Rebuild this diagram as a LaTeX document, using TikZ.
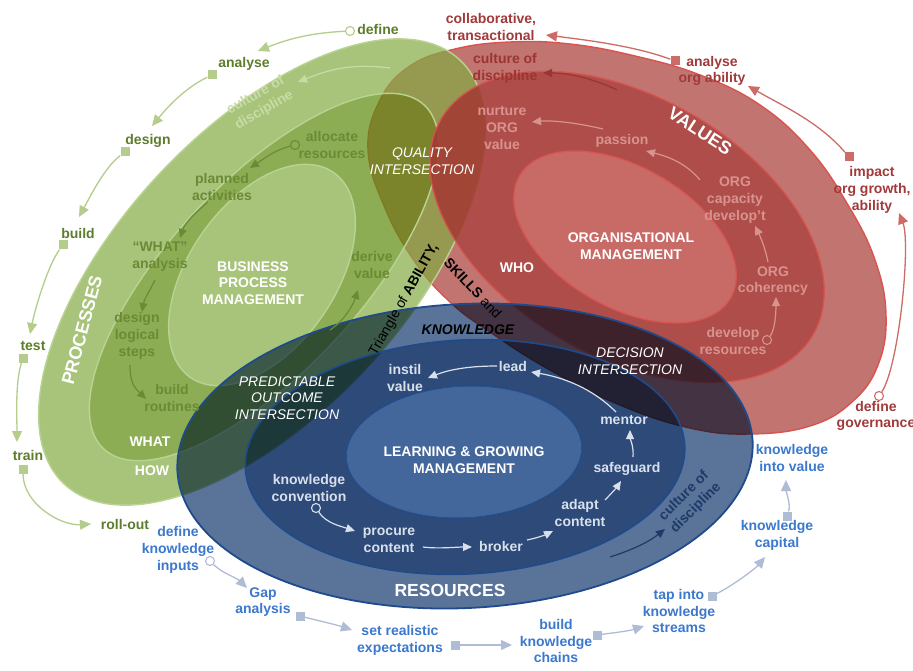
\documentclass[tikz,border=0pt]{standalone}
\usepackage{fontspec}
\setmainfont{Liberation Sans}
\usetikzlibrary{arrows.meta}

% ring palettes (green fills are laid down at 70% opacity)
\definecolor{gOut}{HTML}{84AB44}
\definecolor{gMid}{HTML}{5E8B0E}
\definecolor{gIn}{HTML}{84AC42}
\definecolor{gEdge}{HTML}{BAD393}
\definecolor{gText}{HTML}{5E7D2C}
\definecolor{gInText}{HTML}{6A8A36}
\definecolor{gLine}{HTML}{B5CD8C}
\definecolor{gPale}{HTML}{C9DBA6}

\definecolor{rOut}{HTML}{C27470}
\definecolor{rMid}{HTML}{A02F2A}
\definecolor{rIn}{HTML}{C6635E}
\definecolor{rEdge}{HTML}{D9534F}
\definecolor{rText}{HTML}{A23A3A}
\definecolor{rInText}{HTML}{D9938E}
\definecolor{rLine}{HTML}{CF6B66}
\definecolor{rDark}{HTML}{9C3532}

\definecolor{bOut}{HTML}{5A7399}
\definecolor{bMid}{HTML}{2D4A78}
\definecolor{bIn}{HTML}{44679B}
\definecolor{bEdge}{HTML}{1F4B8C}
\definecolor{bText}{HTML}{3B78CE}
\definecolor{bInText}{HTML}{D8E0EC}
\definecolor{bLine}{HTML}{AFBCD6}
\definecolor{bNavy}{HTML}{1D3A68}

% closed tilted ellipse: centre x, centre y, half-axis a, half-axis b, tilt (deg, counter-clockwise)
\newcommand\ellpath[5]{plot[domain=0:360,samples=181,variable=\t]
  ({#1+#3*cos(\t)*cos(#5)+#4*sin(\t)*sin(#5)},{#2-#3*cos(\t)*sin(#5)+#4*sin(\t)*cos(#5)}) -- cycle}
% the three ellipses of each ring set
\newcommand\gOutE{\ellpath{262}{272}{290}{142}{47}}
\newcommand\gMidE{\ellpath{264}{277}{235}{95}{47}}
\newcommand\gInE{\ellpath{262}{275}{125}{73}{55}}
\newcommand\rMidE{\ellpath{627}{227}{215}{130}{-30}}
\newcommand\rInE{\ellpath{625}{237}{122}{70}{-30}}
\newcommand\bOutE{\ellpath{465}{456}{288}{152}{3}}
\newcommand\bMidE{\ellpath{465}{457}{220}{117}{3}}
\newcommand\bInE{\ellpath{464}{452}{118}{66}{3}}
% outline of the VALUES ring
\newcommand\rOutE{plot[smooth cycle, tension=0.7] coordinates {
  (368,150) (380,100) (410,66) (455,49) (510,42) (570,44) (635,56) (700,75)
  (760,105) (810,150) (848,205) (875,260) (886,315) (878,365) (852,402)
  (810,426) (750,434) (690,428) (620,405) (550,370) (490,332) (450,302)
  (415,262) (385,208)}}

\tikzset{
  every node/.style={inner sep=0pt, align=center},
  lb/.style={font=\fontsize{14}{16.8}\selectfont\bfseries},
  big/.style={font=\fontsize{18}{20}\selectfont\bfseries, text=white},
  itl/.style={font=\fontsize{14}{16.8}\selectfont\itshape, text=white},
  glab/.style={lb, text=gText},
  gin/.style={lb, text=gInText},
  rlab/.style={lb, text=rText},
  rin/.style={lb, text=rInText},
  blab/.style={lb, text=bText},
  bin/.style={lb, text=bInText},
  wlab/.style={lb, text=white},
  sq/.style={rectangle, fill=#1, minimum size=9pt},
  ring/.style={circle, draw=#1, fill=white, line width=1.1pt, minimum size=9pt},
  tipbig/.style={-{Triangle[length=11pt,width=10pt]}},
  tipsmall/.style={-{Triangle[length=9pt,width=8pt]}},
  gcon/.style={draw=gLine, line width=1.3pt, tipbig},
  rcon/.style={draw=rLine, line width=1.3pt, tipbig},
  bcon/.style={draw=bLine, line width=1.3pt, tipbig},
  icon/.style={draw=#1, line width=1.2pt, tipsmall},
  gfill/.style={fill=#1, fill opacity=0.7, even odd rule},
}

\begin{document}
\begin{tikzpicture}[x=1pt,y=-1pt]
\useasboundingbox (0,0) rectangle (913,671);
\fill[white] (0,0) rectangle (913,671);

% ---------- VALUES outer ring (lies under the green set) ----------
\fill[rOut, even odd rule] \rOutE \rMidE;
\draw[rEdge, line width=1.4pt] \rOutE;

% ---------- PROCESSES (green) ----------
\fill[gfill=gOut] \gOutE \gMidE;
\fill[gfill=gMid] \gMidE \gInE;
\fill[gfill=gIn]  \gInE;
\draw[gEdge, line width=1.4pt] \gOutE;
\draw[gEdge, line width=1.4pt] \gMidE;
\draw[gEdge, line width=1.4pt] \gInE;

% ---------- VALUES inner rings ----------
\fill[rMid, fill opacity=0.85, even odd rule] \rMidE \rInE;
\fill[rIn, fill opacity=0.95] \rInE;
\draw[rEdge, line width=1.4pt, draw opacity=0.9] \rMidE;
\draw[rEdge, line width=1.4pt, draw opacity=0.9] \rInE;

% ---------- RESOURCES (blue) ----------
\fill[bOut, blend mode=multiply, even odd rule] \bOutE \bMidE;
\fill[bMid, blend mode=multiply, even odd rule] \bMidE \bInE;
\fill[bIn, blend mode=multiply] \bInE;
\draw[bEdge, line width=1.8pt] \bOutE;
\draw[bEdge, line width=1.6pt] \bMidE;
\draw[bEdge, line width=1.4pt, draw opacity=0.8] \bInE;

% ---------- green outer cycle ----------
\node[ring=gLine] (mDefine)  at (350,31) {};
\node[sq=gLine]   (mAnalyse) at (212,75) {};
\node[sq=gLine]   (mDesign)  at (125,152) {};
\node[sq=gLine]   (mBuild)   at (63,245) {};
\node[sq=gLine]   (mTest)    at (23,358) {};
\node[sq=gLine]   (mTrain)   at (23,469) {};
\coordinate (tAnalyse) at (258,51);
\coordinate (tDesign)  at (152,126);
\coordinate (tBuild)   at (79,217);
\coordinate (tTest)    at (30,334);
\coordinate (tTrain)   at (17,442);
\coordinate (tRoll)    at (91,524);
\draw[gcon] (mDefine)  .. controls +(-40,2) and +(30,-12) .. (tAnalyse);
\draw[gcon] (mAnalyse) .. controls +(-25,12) and +(18,-22) .. (tDesign);
\draw[gcon] (mDesign)  .. controls +(-20,15) and +(12,-22) .. (tBuild);
\draw[gcon] (mBuild)   .. controls +(-15,20) and +(5,-25) .. (tTest);
\draw[gcon] (mTest)    .. controls +(-8,25) and +(0,-25) .. (tTrain);
\draw[gcon] (mTrain)   .. controls +(0,35) and +(-30,2) .. (tRoll);
\node[glab] (lDefine)  at (378,29)  {define};
\node[glab] (lAnalyse) at (244,64)  {analyse};
\node[glab] (lDesign)  at (148,141) {design};
\node[glab] (lBuild)   at (78,233)  {build};
\node[glab] (lTest)    at (33,346)  {test};
\node[glab] (lTrain)   at (28,455)  {train};
\node[glab] (lRoll)    at (125,524) {roll-out};

% ---------- green inner cycle ----------
\node[ring=gInText, fill=none] (mAlloc) at (295,145) {};
\coordinate (tPlanned) at (250,168);
\coordinate (sPlanned) at (208,202);
\coordinate (tWhatA)   at (180,238);
\coordinate (sWhatA)   at (155,280);
\coordinate (tLogic)   at (142,312);
\coordinate (sLogic)   at (130,365);
\coordinate (tRout)    at (146,399);
\coordinate (sDerive)  at (330,330);
\coordinate (tDerive)  at (358,290);
\draw[icon=gInText] (mAlloc)   .. controls +(-20,5) and +(15,-10) .. (tPlanned);
\draw[icon=gInText] (sPlanned) .. controls +(-12,10) and +(5,-15) .. (tWhatA);
\draw[icon=gInText] (sWhatA)   .. controls +(-6,12) and +(2,-12) .. (tLogic);
\draw[icon=gInText] (sLogic)   .. controls +(0,20) and +(-10,-10) .. (tRout);
\draw[icon=gInText] (sDerive)  .. controls +(15,-10) and +(-5,15) .. (tDerive);
\node[gin] (lAlloc)   at (332,145) {allocate\\resources};
\node[gin] (lPlanned) at (222,187) {planned\\activities};
\node[gin] (lWhatA)   at (160,257) {“WHAT”\\analysis};
\node[gin] (lLogic)   at (137,336) {design\\logical\\steps};
\node[gin] (lRout)    at (172,398) {build\\routines};
\node[gin] (lDerive)  at (372,265) {derive\\value};
\coordinate (sGCult) at (390,68);
\coordinate (tGCult) at (298,82);
\draw[icon=gPale] (sGCult) .. controls +(-40,-5) and +(30,-12) .. (tGCult);
\node[lb, text=gPale, rotate=30] (lGCult) at (260,103) {culture of\\discipline};
\node[wlab] (lBPM) at (253,283) {BUSINESS\\PROCESS\\MANAGEMENT};
\node[big, rotate=75] (lProc) at (82,330) {PROCESSES};
\node[wlab] (lWhat) at (150,442) {WHAT};
\node[wlab] (lHow)  at (152,471) {HOW};

% ---------- red outer cycle ----------
\node[sq=rLine]   (mOrgAb)  at (675,61) {};
\node[sq=rLine]   (mImpact) at (849,157) {};
\node[ring=rLine] (mGov)    at (879,396) {};
\coordinate (tCollab) at (546,35);
\coordinate (tOrgAb)  at (748,86);
\coordinate (tImpact) at (899,213);
\draw[rcon] (mOrgAb)  .. controls +(-40,-15) and +(40,5) .. (tCollab);
\draw[rcon] (mImpact) .. controls +(-30,-35) and +(35,20) .. (tOrgAb);
\draw[rcon] (mGov)    .. controls +(20,-30) and +(12,30) .. (tImpact);
\node[rlab] (lCollab) at (491,27)  {collaborative,\\transactional};
\node[rlab] (lOrgAb)  at (712,71)  {analyse\\org ability};
\node[rlab] (lImpact) at (872,190) {impact\\org growth,\\ability};
\node[rlab] (lGov)    at (876,416) {define\\governance};

% ---------- red inner cycle ----------
\coordinate (sRCult) at (617,90);
\coordinate (tRCult) at (543,73);
\draw[icon=rDark] (sRCult) .. controls +(-25,-12) and +(25,0) .. (tRCult);
\node[lb, text=rDark] (lRCult) at (505,68) {culture of\\discipline};
\node[big, rotate=-33] (lValues) at (700,131) {VALUES};
\coordinate (sPassion) at (603,129);
\coordinate (tNurture) at (532,122);
\coordinate (sCapac)   at (700,180);
\coordinate (tPassion) at (646,151);
\coordinate (sCoher)   at (768,262);
\coordinate (tCapac)   at (755,226);
\node[ring=rInText, fill=none] (mDevRes) at (767,340) {};
\coordinate (tCoher)   at (776,297);
\draw[icon=rInText] (sPassion) .. controls +(-25,-6) and +(20,-2) .. (tNurture);
\draw[icon=rInText] (sCapac)   .. controls +(-15,-18) and +(20,5) .. (tPassion);
\draw[icon=rInText] (sCoher)   .. controls +(-3,-15) and +(5,10) .. (tCapac);
\draw[icon=rInText] (mDevRes)  .. controls +(8,-10) and +(0,15) .. (tCoher);
\node[rin] (lNurture) at (502,128) {nurture\\ORG\\value};
\node[rin] (lPassion) at (622,141) {passion};
\node[rin] (lCapac)   at (735,200) {ORG\\capacity\\develop’t};
\node[rin] (lCoher)   at (773,281) {ORG\\coherency};
\node[rin] (lDevRes)  at (733,341) {develop\\resources};
\node[wlab] (lOM)  at (631,246) {ORGANISATIONAL\\MANAGEMENT};
\node[wlab] (lWho) at (517,268) {WHO};

% ---------- intersections ----------
\node[itl] (lQual) at (422,161) {QUALITY\\INTERSECTION};
\node[itl] (lPred) at (287,398) {PREDICTABLE\\OUTCOME\\INTERSECTION};
\node[itl] (lDec)  at (630,361) {DECISION\\INTERSECTION};
\node[font=\fontsize{14}{16.8}\selectfont, rotate=60.5]  (lTri1) at (404,300) {Triangle of \textbf{ABILITY,}};
\node[font=\fontsize{14}{16.8}\selectfont, rotate=-47]   (lTri2) at (473,288) {\textbf{SKILLS} and};
\node[font=\fontsize{14}{16.8}\selectfont\bfseries\itshape] (lTri3) at (468,330) {KNOWLEDGE};

% ---------- blue inner cycle ----------
\coordinate (sLead)   at (497,366);
\coordinate (tInstil) at (428,378);
\coordinate (sMentor) at (616,412);
\coordinate (tLead)   at (531,372);
\coordinate (sSafe)   at (633,457);
\coordinate (tMentor) at (630,430);
\coordinate (sAdapt)  at (605,500);
\coordinate (tSafe)   at (621,481);
\coordinate (sBroker) at (527,540);
\coordinate (tAdapt)  at (553,531);
\coordinate (sProc)   at (423,547);
\coordinate (tBroker) at (472,547);
\node[ring=bInText, fill=none] (mConv) at (316,508) {};
\coordinate (tProc)   at (355,531);
\draw[icon=bInText] (sLead)   .. controls +(-30,0) and +(20,-8) .. (tInstil);
\draw[icon=bInText] (sMentor) .. controls +(-25,-25) and +(30,5) .. (tLead);
\draw[icon=bInText] (sSafe)   .. controls +(1,-10) and +(0,8) .. (tMentor);
\draw[icon=bInText] (sAdapt)  .. controls +(5,-5) and +(-4,6) .. (tSafe);
\draw[icon=bInText] (sBroker) .. controls +(10,-2) and +(-8,4) .. (tAdapt);
\draw[icon=bInText] (sProc)   .. controls +(15,2) and +(-15,0) .. (tBroker);
\draw[icon=bInText] (mConv)   .. controls +(10,15) and +(-15,-5) .. (tProc);
\node[bin] (lInstil) at (405,378) {instil\\value};
\node[bin] (lLead)   at (513,366) {lead};
\node[bin] (lMentor) at (624,420) {mentor};
\node[bin] (lSafe)   at (627,469) {safeguard};
\node[bin] (lAdapt)  at (580,513) {adapt\\content};
\node[bin] (lBroker) at (501,546) {broker};
\node[bin] (lProc)   at (389,540) {procure\\content};
\node[bin] (lConv)   at (309,488) {knowledge\\convention};
\node[wlab] (lLGM) at (464,460) {LEARNING \& GROWING\\MANAGEMENT};
\node[big, font=\fontsize{17.5}{20}\selectfont\bfseries] (lRes) at (450,590) {RESOURCES};
\coordinate (sBCult) at (610,557);
\coordinate (tBCult) at (665,529);
\draw[icon=bNavy] (sBCult) .. controls +(25,-8) and +(-15,12) .. (tBCult);
\node[lb, text=bNavy, rotate=45] (lBCult) at (690,502) {culture of\\discipline};

% ---------- blue outer cycle ----------
\node[ring=bLine] (mInputs) at (210,561) {};
\node[sq=bLine]   (mGap)    at (300,616) {};
\node[sq=bLine]   (mReal)   at (455,645) {};
\node[sq=bLine]   (mChains) at (597,635) {};
\node[sq=bLine]   (mTap)    at (712,596) {};
\node[sq=bLine]   (mCap)    at (787,516) {};
\coordinate (tGap)    at (247,588);
\coordinate (tReal)   at (352,630);
\coordinate (tChains) at (512,645);
\coordinate (tTap)    at (644,626);
\coordinate (tCap)    at (765,557);
\coordinate (tValue)  at (786,480);
\draw[bcon] (mInputs) .. controls +(12,12) and +(-10,-10) .. (tGap);
\draw[bcon] (mGap)    .. controls +(20,5) and +(-15,-5) .. (tReal);
\draw[bcon] (mReal)   -- (tChains);
\draw[bcon] (mChains) .. controls +(15,-2) and +(-15,5) .. (tTap);
\draw[bcon] (mTap)    .. controls +(20,-10) and +(-10,12) .. (tCap);
\draw[bcon] (mCap)    .. controls +(4,-12) and +(0,12) .. (tValue);
\node[blab] (lInputs) at (178,550) {define\\knowledge\\inputs};
\node[blab] (lGap)    at (263,602) {Gap\\analysis};
\node[blab] (lReal)   at (400,640) {set realistic\\expectations};
\node[blab] (lChains) at (556,641) {build\\knowledge\\chains};
\node[blab] (lTap)    at (679,611) {tap into\\knowledge\\streams};
\node[blab] (lCap)    at (777,535) {knowledge\\capital};
\node[blab] (lValue)  at (792,458) {knowledge\\into value};
\end{tikzpicture}
\end{document}
